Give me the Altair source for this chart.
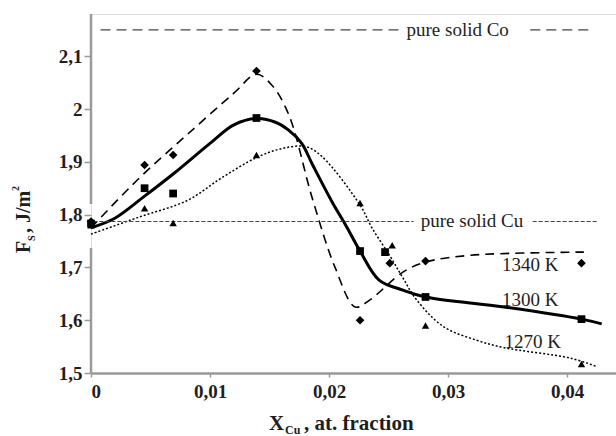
import altair as alt
import pandas as pd

# ---- measured points (X_Cu, Fs) ----
x_pts = [0.0, 0.0045, 0.0069, 0.0139, 0.0226, 0.0251, 0.0281, 0.0412]
fs_1340 = [1.787, 1.894, 1.913, 2.072, 1.600, 1.708, 1.712, 1.708]
x_pts_1300 = [0.0, 0.0045, 0.0069, 0.0139, 0.0226, 0.0247, 0.0281, 0.0412]
fs_1300 = [1.783, 1.850, 1.840, 1.983, 1.731, 1.729, 1.644, 1.602]
x_pts_1270 = [0.0, 0.0045, 0.0069, 0.0139, 0.0226, 0.0253, 0.0281, 0.0412]
fs_1270 = [1.780, 1.812, 1.784, 1.913, 1.822, 1.742, 1.590, 1.517]

# ---- fitted curves ----
cx_1340 = [0.0, 0.004, 0.008, 0.012, 0.0139, 0.0152, 0.0166, 0.0186, 0.0205,
           0.0222, 0.0234, 0.0262, 0.0281, 0.0319, 0.0414]
cy_1340 = [1.775, 1.868, 1.950, 2.030, 2.066, 2.045, 1.990, 1.830, 1.700,
           1.625, 1.638, 1.691, 1.710, 1.723, 1.729]

cx_1300 = [0.0, 0.002, 0.0045, 0.0069, 0.010, 0.012, 0.0139, 0.0155, 0.0166,
           0.0177, 0.0186, 0.0203, 0.0214, 0.0226, 0.0242, 0.0262, 0.0281,
           0.0347, 0.0412, 0.0429]
cy_1300 = [1.775, 1.793, 1.835, 1.877, 1.935, 1.970, 1.982, 1.975, 1.960,
           1.935, 1.895, 1.822, 1.780, 1.731, 1.676, 1.657, 1.644,
           1.625, 1.602, 1.593]

cx_1270 = [0.0, 0.004, 0.0081, 0.011, 0.0139, 0.0160, 0.0180, 0.0194, 0.0226,
           0.0236, 0.0251, 0.0262, 0.0273, 0.0296, 0.0324, 0.0347, 0.0403,
           0.0425]
cy_1270 = [1.763, 1.795, 1.827, 1.870, 1.908, 1.925, 1.929, 1.910, 1.818,
           1.775, 1.722, 1.680, 1.640, 1.588, 1.562, 1.548, 1.528, 1.512]

# ---- reference levels ----
co_level = 2.15
co_segments = [(0.0008, 0.0262), (0.0369, 0.0422)]
cu_level = 1.787
cu_segments = [(0.0002, 0.0271), (0.0371, 0.0425)]
y_axis_segments = [(1.5, 1.737), (1.82, 2.18)]

x_ticks = [0.0, 0.01, 0.02, 0.03, 0.04]
y_ticks = [1.5, 1.6, 1.7, 1.8, 1.9, 2.0, 2.1]

curve_labels = ["1340 K", "1300 K", "1270 K"]
curve_label_x = [0.0369, 0.0369, 0.0371]
curve_label_y = [1.704, 1.638, 1.559]

SERIF = "Liberation Serif"
INK = "#1e1e1e"

xs = alt.Scale(domain=[0, 0.0441], nice=False, zero=False)
ys = alt.Scale(domain=[1.5, 2.18], nice=False, zero=False)

x_axis = alt.Axis(values=x_ticks, labelExpr="replace(format(datum.value, '.2~f'), '.', ',')",
                  title=None, grid=False, domainColor="#9a9a9a", domainWidth=2.5,
                  tickColor="#9a9a9a", tickSize=4, tickWidth=1.5, labelFont=SERIF,
                  labelFontSize=19, labelFontWeight="bold", labelColor=INK, labelPadding=5)
y_axis = alt.Axis(values=y_ticks, labelExpr="replace(format(datum.value, '.1~f'), '.', ',')",
                  title=None, grid=False, domain=False, tickColor="#9a9a9a",
                  tickSize=7, tickWidth=1.5, labelFont=SERIF, labelFontSize=19,
                  labelFontWeight="bold", labelColor=INK, labelPadding=2)


def curve(cx, cy, **style):
    df = pd.DataFrame({"x": cx, "y": cy})
    return alt.Chart(df).mark_line(interpolate="catmull-rom", color="black", **style).encode(
        x=alt.X("x:Q", scale=xs, axis=x_axis),
        y=alt.Y("y:Q", scale=ys, axis=y_axis),
    )


def points(px, py, shape, size):
    df = pd.DataFrame({"x": px, "y": py})
    return alt.Chart(df).mark_point(shape=shape, filled=True, color="black",
                                    size=size, opacity=1).encode(
        x=alt.X("x:Q", scale=xs), y=alt.Y("y:Q", scale=ys))


def level_segments(segs, level, dash, width):
    df = pd.DataFrame({"x": [a for a, _ in segs], "x2": [b for _, b in segs],
                       "y": [level] * len(segs)})
    return alt.Chart(df).mark_rule(color="#444", strokeDash=dash, strokeWidth=width).encode(
        x=alt.X("x:Q", scale=xs), x2="x2:Q", y=alt.Y("y:Q", scale=ys))


# y axis line, interrupted beside the 1,8 label
yax_df = pd.DataFrame({"y": [a for a, _ in y_axis_segments],
                       "y2": [b for _, b in y_axis_segments], "x": [0.0, 0.0]})
y_line = alt.Chart(yax_df).mark_rule(color="#9a9a9a", strokeWidth=2.5).encode(
    x=alt.X("x:Q", scale=xs), y=alt.Y("y:Q", scale=ys), y2="y2:Q")

co_line = level_segments(co_segments, co_level, [10, 6], 1.3)
cu_line = level_segments(cu_segments, cu_level, [4, 2], 1.1)

ref_text_df = pd.DataFrame({"x": [0.0308, 0.0320], "y": [co_level, cu_level],
                            "t": ["pure solid Co", "pure solid Cu"]})
ref_text = alt.Chart(ref_text_df).mark_text(font=SERIF, fontSize=19, color=INK,
                                            align="center", baseline="middle").encode(
    x=alt.X("x:Q", scale=xs), y=alt.Y("y:Q", scale=ys), text="t:N")

lab_df = pd.DataFrame({"x": curve_label_x, "y": curve_label_y, "t": curve_labels})
lab_text = alt.Chart(lab_df).mark_text(font=SERIF, fontSize=19, color=INK,
                                       align="center", baseline="middle").encode(
    x=alt.X("x:Q", scale=xs), y=alt.Y("y:Q", scale=ys), text="t:N")


# axis titles with sub/superscripts
def title_part(text, px, py, size, angle=0, weight="bold"):
    return alt.Chart(pd.DataFrame({"t": [text]})).mark_text(
        font=SERIF, fontSize=size, fontWeight=weight, color=INK, align="left",
        baseline="alphabetic", angle=angle).encode(
        x=alt.value(px), y=alt.value(py), text="t:N")


x_title = [
    title_part("X", 178, 416, 21),
    title_part("Cu", 194, 420, 12),
    title_part(", at. fraction", 213, 416, 21),
]
y_title = [
    title_part("F", -61, 239, 20, angle=270),
    title_part("S", -56, 227, 10, angle=270),
    title_part(", J/m", -61, 219, 20, angle=270),
    title_part("2", -72, 177, 10, angle=270),
]

chart = alt.layer(
    curve(cx_1340, cy_1340, strokeWidth=1.6, strokeDash=[9, 6]),
    curve(cx_1300, cy_1300, strokeWidth=3),
    curve(cx_1270, cy_1270, strokeWidth=1.5, strokeDash=[2, 2]),
    y_line, co_line, cu_line,
    points(x_pts, fs_1340, "diamond", 75),
    points(x_pts_1300, fs_1300, "square", 60),
    points(x_pts_1270, fs_1270, "triangle-up", 55),
    ref_text, lab_text,
    *x_title, *y_title,
).properties(
    width=525, height=359,
    autosize=alt.AutoSizeParams(type="none"),
    padding={"left": 91, "top": 14, "right": 0, "bottom": 63},
).configure_view(stroke=None).configure(background="white")

chart.save("out.html", embed_options={"renderer": "svg", "actions": False})
